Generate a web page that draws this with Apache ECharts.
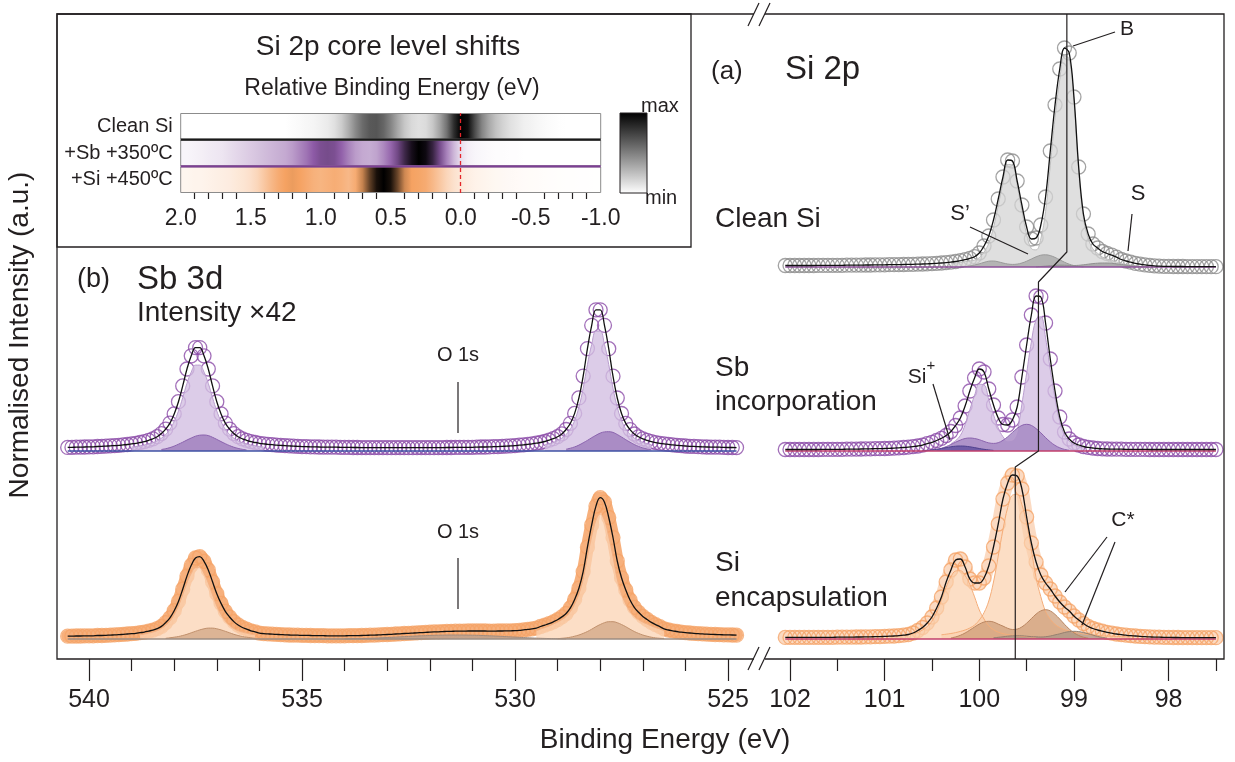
<!DOCTYPE html>
<html>
<head>
<meta charset="utf-8">
<title>Si 2p / Sb 3d core levels</title>
<script src="https://cdn.jsdelivr.net/npm/echarts@6.0.0/dist/echarts.min.js"></script>
<style>
  html, body { margin: 0; padding: 0; background: #fff; }
  #chart { width: 1235px; height: 762px; }
</style>
</head>
<body>
<div id="chart"></div>
<script>
// energy grids of the measured spectra (eV)
const sbStart = 540.5, sbStep = 0.1;
const siStart = 102.05, siStep = 0.05;
// stacking offsets (a.u.): clean Si, Sb incorporation, Si encapsulation
const rowBase = [392, 208, 20];
const yMax = 645;

// ---- Sb 3d (x42) ----
const sbPurple = [
  3.6,3.7,3.8,3.9,4.0,4.1,4.2,4.5,4.6,4.9,
  5.2,5.4,5.7,6.1,6.5,7.1,7.7,8.5,9.4,10.7,
  12.2,14.3,17.4,21.8,27.9,37.1,49.3,65.1,82.0,95.2,
  103.4,103.4,95.2,82.0,65.1,49.3,37.1,27.9,21.8,17.4,
  14.3,12.2,10.7,9.4,8.5,7.7,7.2,6.7,6.3,5.9,
  5.6,5.4,5.1,4.8,4.7,4.4,4.3,4.2,4.1,4.0,
  3.9,3.9,3.8,3.8,3.7,3.6,3.6,3.5,3.5,3.4,
  3.4,3.4,3.4,3.4,3.4,3.3,3.3,3.4,3.4,3.3,
  3.3,3.3,3.4,3.4,3.4,3.3,3.3,3.4,3.4,3.5,
  3.5,3.6,3.6,3.7,3.7,3.7,3.9,4.0,4.0,4.1,
  4.3,4.4,4.7,4.8,5.1,5.4,5.8,6.2,6.7,7.2,
  7.8,8.5,9.5,10.8,12.3,14.3,17.1,21.5,27.7,37.6,
  53.1,74.9,102.4,125.7,141.2,141.2,125.7,102.3,74.8,53.0,
  37.5,27.6,21.4,17.0,14.2,12.2,10.7,9.4,8.4,7.7,
  7.1,6.6,6.1,5.7,5.3,5.0,4.7,4.6,4.3,4.2,
  4.0,3.9,3.9,3.8,3.6,3.5,3.5,3.4];
const sbOrange = [
  2.8,2.9,3.0,3.0,3.1,3.2,3.2,3.5,3.5,3.7,
  3.9,4.1,4.3,4.7,5.0,5.3,5.7,6.3,6.9,7.9,
  8.9,10.4,12.6,16.4,21.2,28.3,37.6,49.8,62.9,73.7,
  81.0,82.4,77.7,69.1,57.2,45.3,35.6,27.7,22.0,17.4,
  14.0,11.5,9.8,8.2,7.1,5.8,5.4,5.1,4.8,4.6,
  4.4,4.2,4.0,3.8,3.8,3.6,3.6,3.5,3.4,3.4,
  3.3,3.2,3.2,3.2,3.2,3.2,3.3,3.3,3.4,3.5,
  3.7,3.8,3.9,4.1,4.3,4.5,4.7,5.0,5.2,5.5,
  5.6,5.9,6.2,6.4,6.6,6.9,7.1,7.2,7.4,7.6,
  7.7,7.8,7.9,7.9,8.0,8.0,8.0,8.0,8.0,7.9,
  7.9,8.0,8.0,8.1,8.2,8.3,8.6,9.1,9.6,10.2,
  10.8,12.5,13.9,15.4,17.2,19.3,22.1,25.5,31.1,39.6,
  50.8,67.4,91.8,114.1,132.9,141.3,136.8,121.5,101.5,78.0,
  61.2,49.0,39.0,31.7,26.7,22.6,19.5,16.6,14.3,12.4,
  10.2,9.0,8.2,7.5,6.8,6.3,6.0,5.6,5.3,5.1,
  4.8,4.6,4.5,4.3,4.2,4.1,4.0,3.8];
// fitted components, values on the 0.1 eV grid from the start energies below
const sbPurpleMainL = [4.0,4.5,5.2,6.0,7.1,8.3,10.1,12.8,16.5,21.7,29.5,39.9,53.3,67.7,78.9,85.9,85.9,78.9,67.7,53.3,39.9,29.5,21.7,16.5,12.8,10.1,8.3,7.1,6.0,5.2,4.5,4.0];
const sbPurpleSmallL = [1.5,2.3,3.4,4.9,6.8,8.8,11.0,13.0,14.8,15.8,16.0,15.4,13.7,11.6,9.4,7.3,5.4,3.8,2.6,1.7,1.0];
const sbPurpleMainR = [6.2,7.3,8.6,10.4,12.8,16.6,21.9,30.5,43.8,62.7,86.4,106.5,119.9,119.9,106.5,86.4,62.7,43.8,30.5,21.9,16.6,12.8,10.4,8.6,7.3,6.2];
const sbPurpleSmallR = [1.8,2.8,4.1,5.9,8.2,10.6,13.3,15.7,17.9,19.1,19.3,18.6,16.5,14.0,11.3,8.8,6.5,4.6,3.1,2.0,1.2];
const sbOrangeMainL = [4.3,4.9,5.9,6.9,8.4,10.6,13.7,18.0,24.5,33.1,44.3,56.2,65.5,71.3,71.3,65.5,56.2,44.3,33.1,24.5,18.0,13.7,10.6,8.4,6.9,5.9,4.9,4.3];
const sbOrangeSmallL = [0.7,1.2,1.8,2.5,3.5,4.7,6.2,7.7,9.1,10.2,10.9,10.9,10.2,9.1,7.7,6.2,4.7,3.5,2.5,1.8,1.2,0.7];
const sbOrangeMainR = [8.1,10.0,11.5,13.1,15.0,16.9,19.4,22.5,27.5,35.0,45.0,60.0,82.5,102.5,118.8,125,118.8,102.5,82.5,60.0,45.0,35.0,27.5,22.5,19.4,16.9,15.0,13.1,11.5,10.0,8.1];
const sbOrangeSmallR = [0.35,0.7,1.1,1.8,2.8,4.0,5.6,7.5,9.8,12.3,14.5,16.3,17.3,17.3,16.3,14.5,12.3,9.8,7.5,5.6,4.0,2.8,1.8,1.1,0.7,0.35];
const sbOrangeO1s = [0.1,0.25,0.45,0.7,1.05,1.45,1.9,2.35,2.8,3.2,3.55,3.8,3.95,4.0,3.95,3.8,3.55,3.2,2.8,2.35,1.9,1.45,1.05,0.7,0.45,0.25,0.1]; // 0.2 eV grid
const sbCompStart = { pMainL: 539.0, pSmallL: 538.3, pMainR: 529.3, pSmallR: 528.8,
                      oMainL: 538.8, oSmallL: 538.2, oMainR: 529.5, oSmallR: 529.0, oO1s: 534.0 };

// ---- Si 2p ----
const siClean = [
  1.5,1.5,1.5,1.5,1.5,1.5,1.5,1.6,1.6,1.6,
  1.7,1.7,1.7,1.8,1.8,1.9,1.9,2.0,2.0,2.1,
  2.1,2.2,2.3,2.3,2.4,2.5,2.6,2.7,2.9,3.0,
  3.2,3.4,3.7,4.0,4.4,4.9,5.5,6.3,7.3,8.6,
  10.3,14,21,31,47,68,90,107,106,86,
  62,40,28,29,42,70,116,162,198,219,
  214,170,100,53,33,23,19,15.5,13.5,11.8,
  9.8,7.5,6.0,4.8,3.6,2.8,2.1,1.6,1.2,0.9,
  0.7,0.6,0.5,0.5,0.5,0.4,0.4,0.4,0.4,0.3,
  0.3,0.3];
const siSb = [
  1.5,1.5,1.5,1.5,1.5,1.5,1.5,1.5,1.6,1.6,
  1.6,1.7,1.7,1.8,1.8,1.9,2.0,2.1,2.2,2.3,
  2.3,2.5,2.7,2.9,3.2,3.5,3.9,4.4,5.0,5.9,
  7.3,8.7,10.5,12.7,15.5,19.5,25.5,33,45,60,
  73,82,79,62,46,33,26.5,26,31,44,
  74,106,136,155,154,128,92,60,34,19,
  12,8,6,4.5,3.6,3.0,2.5,2.2,2.0,1.9,
  1.8,1.8,1.7,1.7,1.6,1.6,1.6,1.5,1.5,1.5,
  1.5,1.5,1.5,1.5,1.5,1.5,1.5,1.5,1.5,1.5,
  1.5,1.5];
const siSi = [
  1.6,1.6,1.6,1.6,1.6,1.6,1.6,1.7,1.7,1.7,
  1.7,1.8,1.8,1.9,1.9,2.0,2.0,2.1,2.2,2.3,
  2.4,2.6,2.8,3.0,3.3,3.8,4.5,6.0,8.5,11.5,
  16,22,31,42,57,69,79,80,72,60,
  56,56,61,73,92,115,140,156,164,163,
  150,122,96,77,64,56,50,43,37,32,
  28,23,19,15.5,12.5,10.5,9,7.8,6.7,5.8,
  5.0,4.4,3.8,3.3,3.0,2.6,2.3,2.1,1.9,1.8,
  1.7,1.6,1.5,1.5,1.4,1.4,1.4,1.3,1.3,1.3,
  1.3,1.3];
const siCleanBulk = [3.4,4.0,4.6,5.3,6.1,6.8,9.3,14.9,23.7,39.5,61.3,84.5,102.5,101.9,81.6,56.5,32.7,18.5,17.1,28.2,55.4,101.8,149.2,187.4,210.9,208.1,165.6,96.2,49.1,28.7,18.1,13.7,10.0,8.0,6.6,5.1,3.4,2.6,2.0,1.3,0.8];
const siCleanSp = [0.2,0.5,1.0,2.0,3.2,4.6,5.8,6.0,5.2,4.0,3.0,2.6,2.9,4.0,5.8,8.0,10.2,11.8,12.2,11.4,9.6,7.2,4.8,2.8,1.4,0.6,0.2];
const siCleanS = [0.2,0.5,0.9,1.3,1.7,1.9,1.8,1.6,1.5,1.7,2.2,2.8,3.4,3.8,4.0,4.0,3.7,3.2,2.6,1.9,1.3,0.8,0.5,0.3,0.1];
const siSbMain = [7.3,10.4,15.6,26.2,41.3,55.6,66.7,66.2,51.3,36.3,23.2,14.3,10.3,10.9,19.9,46.9,77.8,108.9,131.1,134.3,113.1,81.4,52.9,29.3,15.9,9.7,6.5,4.5,3.0];
const siSbShift = [1.6,2.7,4.4,6.5,8.8,10.9,12.5,13.0,12.5,11.3,9.6,8.1,7.6,8.3,10.7,14.2,18.6,22.6,25.6,26.7,25.6,22.4,18.2,13.4,9.1,5.6,3.2,1.6,0.8];
const siSbPlus = [0.3,0.6,1.1,1.7,2.5,3.4,4.2,4.8,5.0,4.8,4.2,3.4,2.5,1.7,1.1,0.6];
const siSi32 = [4.2,4.8,5.5,6.4,7.6,9.0,11.0,13.9,19.0,26.3,38.0,57,83,109.5,131.4,143.8,144.5,134.3,115.3,89,61.3,42.3,27.7,19.7,14.6,11.4,9.3,8.0,6.7,5.8,5.0,4.4,3.9,3.5,3.2,2.9,2.8,2.5,2.3,2.2,2.0];
const siSi12 = [2.3,2.6,3.0,3.6,4.3,5.2,6.6,9.0,12.4,17.9,26.9,39.3,51.8,62.1,68,68.3,63.5,54.5,42.1,29.0,20.0,13.1,9.3,6.9,5.4,4.4,3.8,3.2,2.8,2.3,2.1,1.9];
const siSiC1 = [1.1,2.1,3.7,6.0,8.9,12.0,14.9,17.0,17.7,17.0,14.9,12.9,10.7,9.5,9.9,12.1,15.8,20.4,24.9,28.1,29.3,28.1,24.6,19.9,14.7,10.0,6.2,3.5,1.8,0.9];
const siSiC2 = [1.1,1.7,2.2,2.8,3.2,3.3,3.2,2.8,2.4,2.2,2.0,2.3,3.0,4.1,5.2,6.5,7.4,7.7,7.4,6.5,5.2,3.9,2.6,1.6,0.9];
const siCompStart = { bulk: 100.30, sp: 100.20, s: 99.40, sbMain: 100.30, sbShift: 100.45, sbPlus: 100.60,
                      si32: 100.40, si12: 100.95, c1: 100.30, c2: 99.85 };
// bulk peak positions (eV) of the three preparations
const bulkPos = [99.075, 99.375, 99.62];

// ---- inset: Si 2p core level shifts (relative BE 2.0 ... -1.0, 0.05 eV) ----
const hmE0 = 2.0, hmE1 = -1.0;
const hmLabels = ['+Si +450ºC', '+Sb +350ºC', 'Clean Si'];
const hmClean = [
  0,0,0,0,0,0,0,0,0,0,
  0,0,0,0,0,0,0.01,0.02,0.03,0.04,
  0.06,0.08,0.12,0.2,0.32,0.46,0.58,0.65,0.66,0.6,
  0.48,0.34,0.22,0.15,0.12,0.14,0.22,0.36,0.55,0.82,
  1.0,0.95,0.7,0.48,0.34,0.24,0.17,0.12,0.09,0.06,
  0.045,0.03,0.02,0.01,0.005,0,0,0,0,0,
  0];
const hmSb = [
  0.03,0.03,0.04,0.05,0.06,0.07,0.08,0.1,0.12,0.14,
  0.16,0.18,0.2,0.22,0.24,0.26,0.3,0.36,0.42,0.5,
  0.56,0.58,0.56,0.48,0.38,0.3,0.26,0.25,0.28,0.36,
  0.46,0.6,0.78,0.92,1.0,0.95,0.8,0.58,0.38,0.22,
  0.1,0.05,0.03,0.02,0.015,0.01,0.01,0.005,0.005,0,
  0,0,0,0,0,0,0,0,0,0,
  0];
const hmSi = [
  0.05,0.05,0.06,0.06,0.07,0.08,0.09,0.1,0.12,0.14,
  0.17,0.22,0.3,0.38,0.45,0.5,0.52,0.5,0.46,0.42,
  0.4,0.42,0.44,0.42,0.38,0.45,0.6,0.8,0.95,1.0,
  0.95,0.78,0.58,0.5,0.48,0.45,0.38,0.3,0.22,0.16,
  0.12,0.09,0.07,0.06,0.05,0.04,0.035,0.03,0.025,0.02,
  0.018,0.015,0.012,0.01,0.008,0.006,0.005,0.004,0.003,0.002,
  0.002];
const hmRows = [hmSi, hmSb, hmClean];

// axis ticks
const sbMajor = [540, 535, 530, 525];
const sbMinor = [539, 538, 537, 536, 534, 533, 532, 531, 529, 528, 527, 526];
const siMajor = [102, 101, 100, 99, 98];
const siMinor = [101.5, 100.5, 99.5, 98.5, 97.5];

// ---- styles ----
const ink = '#231f20';
const font = "'Liberation Sans', Arial, sans-serif";
const hmMid = ['#f5a262', '#8d5aa6', '#7f7f7f'];
const hmSep = ['#9a9a9a', '#7d3f93', '#1a1a1a'];

function onGrid(start, step, vals, base) {
  return vals.map((v, i) => [+(start - i * step).toFixed(3), v + base]);
}
function hexRgb(h) { return [1, 3, 5].map(k => parseInt(h.slice(k, k + 2), 16)); }
function rampColor(mid, v) {
  const m = hexRgb(mid);
  let c;
  if (v <= 0.5) { const t = v / 0.5; c = m.map(x => 255 + (x - 255) * t); }
  else { const t = (v - 0.5) / 0.5; c = m.map(x => x * (1 - t)); }
  return 'rgb(' + c.map(Math.round).join(',') + ')';
}

const series = [];
function addCircles(xi, yi, data, color) {
  series.push({ type: 'scatter', xAxisIndex: xi, yAxisIndex: yi, data, symbol: 'circle', symbolSize: 14,
    itemStyle: { color: 'rgba(255,255,255,0)', borderColor: color, borderWidth: 1.3 }, z: 2, silent: true });
}
function addBand(xi, yi, data, color, width, op) {
  series.push({ type: 'line', xAxisIndex: xi, yAxisIndex: yi, data, smooth: 0.4, showSymbol: false,
    lineStyle: { color, width, cap: 'round', join: 'round', opacity: op || 1 }, z: 1, silent: true });
}
function addFill(xi, yi, data, base, fill, edge, op) {
  series.push({ type: 'line', xAxisIndex: xi, yAxisIndex: yi, data, smooth: 0.4, showSymbol: false,
    lineStyle: { color: edge, width: 1 }, areaStyle: { color: fill, opacity: op, origin: base }, z: 3, silent: true });
}
function addLine(xi, yi, data, color, width, z, smooth) {
  series.push({ type: 'line', xAxisIndex: xi, yAxisIndex: yi, data, smooth: smooth || false, showSymbol: false,
    lineStyle: { color, width }, z, silent: true });
}

// Sb 3d, Sb incorporation
{
  const b = rowBase[1], d = onGrid(sbStart, sbStep, sbPurple, b);
  addCircles(0, 0, d, '#8b4ba7');
  addFill(0, 0, onGrid(sbCompStart.pMainL, 0.1, sbPurpleMainL, b), b, '#d3bfe2', '#b99dce', 0.8);
  addFill(0, 0, onGrid(sbCompStart.pMainR, 0.1, sbPurpleMainR, b), b, '#d3bfe2', '#b99dce', 0.8);
  addFill(0, 0, onGrid(sbCompStart.pSmallL, 0.1, sbPurpleSmallL, b), b, '#9d7cbd', '#8a62ad', 0.8);
  addFill(0, 0, onGrid(sbCompStart.pSmallR, 0.1, sbPurpleSmallR, b), b, '#9d7cbd', '#8a62ad', 0.8);
  addLine(0, 0, [[sbStart, b], [d[d.length - 1][0], b]], '#3f52a4', 1.5, 4);
  addLine(0, 0, d, '#111', 1.3, 5, 0.4);
}
// Sb 3d, Si encapsulation
{
  const b = rowBase[2], d = onGrid(sbStart, sbStep, sbOrange, b);
  addBand(0, 0, d, '#f7b07c', 13);
  addCircles(0, 0, d, '#f5a468');
  addFill(0, 0, onGrid(sbCompStart.oO1s, 0.2, sbOrangeO1s, b), b, '#b0a096', '#a08c80', 0.7);
  addFill(0, 0, onGrid(sbCompStart.oMainL, 0.1, sbOrangeMainL, b), b, '#fbd3b3', '#f3b184', 0.75);
  addFill(0, 0, onGrid(sbCompStart.oMainR, 0.1, sbOrangeMainR, b), b, '#fbd3b3', '#f3b184', 0.75);
  addFill(0, 0, onGrid(sbCompStart.oSmallL, 0.1, sbOrangeSmallL, b), b, '#d2a584', '#c0906c', 0.75);
  addFill(0, 0, onGrid(sbCompStart.oSmallR, 0.1, sbOrangeSmallR, b), b, '#d2a584', '#c0906c', 0.75);
  addLine(0, 0, [[sbStart, b], [d[d.length - 1][0], b]], '#9c8c82', 1.5, 4);
  addLine(0, 0, d, '#111', 1.3, 5, 0.4);
}
// Si 2p, clean
{
  const b = rowBase[0], d = onGrid(siStart, siStep, siClean, b);
  addCircles(2, 1, d, '#8c8c8c');
  addFill(2, 1, onGrid(siCompStart.bulk, 0.05, siCleanBulk, b), b, '#d4d4d4', '#bdbdbd', 0.75);
  addFill(2, 1, onGrid(siCompStart.sp, 0.05, siCleanSp, b), b, '#a9a9a9', '#999', 0.8);
  addFill(2, 1, onGrid(siCompStart.s, 0.05, siCleanS, b), b, '#9f9f9f', '#8f8f8f', 0.8);
  addLine(2, 1, [[siStart, b], [d[d.length - 1][0], b]], '#8d4f98', 1.5, 4);
  addLine(2, 1, d, '#111', 1.3, 5, 0.4);
}
// Si 2p, Sb incorporation
{
  const b = rowBase[1], d = onGrid(siStart, siStep, siSb, b);
  addCircles(2, 1, d, '#8b4ba7');
  addFill(2, 1, onGrid(siCompStart.sbMain, 0.05, siSbMain, b), b, '#d3bfe2', '#b99dce', 0.8);
  addFill(2, 1, onGrid(siCompStart.sbShift, 0.05, siSbShift, b), b, '#a384c2', '#8a62ad', 0.8);
  addFill(2, 1, onGrid(siCompStart.sbPlus, 0.05, siSbPlus, b), b, '#5b4b9c', '#4d3f8c', 0.75);
  addLine(2, 1, [[siStart, b], [d[d.length - 1][0], b]], '#c2416c', 1.5, 4);
  addLine(2, 1, d, '#111', 1.3, 5, 0.4);
}
// Si 2p, Si encapsulation
{
  const b = rowBase[2], d = onGrid(siStart, siStep, siSi, b);
  addBand(2, 1, d, '#f8c29a', 13, 0.6);
  addCircles(2, 1, d, '#f5a468');
  addFill(2, 1, onGrid(siCompStart.si12, 0.05, siSi12, b), b, '#fbd0ad', '#f4ac78', 0.7);
  addFill(2, 1, onGrid(siCompStart.si32, 0.05, siSi32, b), b, '#fbd0ad', '#f4ac78', 0.7);
  addFill(2, 1, onGrid(siCompStart.c1, 0.05, siSiC1, b), b, '#cc9a74', '#b98560', 0.7);
  addFill(2, 1, onGrid(siCompStart.c2, 0.05, siSiC2, b), b, '#a69486', '#948070', 0.7);
  addLine(2, 1, [[siStart, b], [d[d.length - 1][0], b]], '#c2416c', 1.5, 4);
  addLine(2, 1, d, '#111', 1.3, 5, 0.4);
}
// bulk peak guide line
addLine(2, 1, [[bulkPos[0], yMax], [bulkPos[0], rowBase[0] + 15], [bulkPos[1], rowBase[0] - 15],
  [bulkPos[1], rowBase[1]], [bulkPos[2], rowBase[1] - 16], [bulkPos[2], 0]], ink, 1.2, 6);

// inset heat strips
series.push({
  type: 'custom', xAxisIndex: 4, yAxisIndex: 2, silent: true, z: 2,
  data: hmRows.map((r, i) => [hmE0, i]),
  encode: { x: 0, y: 1 },
  renderItem(params, api) {
    const r = api.value(1);
    const p0 = api.coord([hmE0, r]), p1 = api.coord([hmE1, r]);
    const h = api.size([0, 1])[1];
    const vals = hmRows[r];
    const stops = vals.map((v, i) => ({ offset: i / (vals.length - 1), color: rampColor(hmMid[r], v) }));
    const top = p0[1] - h / 2, bot = p0[1] + h / 2;
    return { type: 'group', children: [
      { type: 'rect', shape: { x: p0[0], y: top + 0.5, width: p1[0] - p0[0], height: h - 1 },
        style: { fill: new echarts.graphic.LinearGradient(0, 0, 1, 0, stops), stroke: '#8c8c8c', lineWidth: 1 } },
      { type: 'line', shape: { x1: p0[0], y1: bot, x2: p1[0], y2: bot },
        style: { stroke: hmSep[r], lineWidth: r === 0 ? 0 : 2.2 } }
    ] };
  },
  markLine: { symbol: 'none', silent: true, label: { show: false },
    lineStyle: { color: '#e3262a', type: [4, 3], width: 1.3 }, data: [{ xAxis: 0 }] }
});

const txt = (text, x, y, size, align, extra) => Object.assign({ type: 'text', x, y, z: 20, silent: true,
  style: { text, fill: ink, fontSize: size, fontFamily: font, align: align || 'left', verticalAlign: 'middle' } }, extra || {});
const seg = (x1, y1, x2, y2, w) => ({ type: 'line', z: 20, silent: true,
  shape: { x1, y1, x2, y2 }, style: { stroke: ink, lineWidth: w || 1.2 } });

const graphic = [
  { type: 'rect', z: 15, silent: true, shape: { x: 57, y: 14, width: 1167, height: 645 }, style: { fill: 'none', stroke: ink, lineWidth: 1.3 } },
  { type: 'rect', z: 15, silent: true, shape: { x: 57, y: 14, width: 634, height: 233 }, style: { fill: 'none', stroke: ink, lineWidth: 1.3 } },
  { type: 'rect', z: 16, silent: true, shape: { x: 754, y: 10, width: 11, height: 8 }, style: { fill: '#fff' } },
  { type: 'rect', z: 16, silent: true, shape: { x: 754, y: 655, width: 11, height: 8 }, style: { fill: '#fff' } },
  seg(748, 26, 759, 3), seg(759, 26, 770, 3), seg(748, 670, 759, 647), seg(759, 670, 770, 647),
  { type: 'rect', z: 15, silent: true, shape: { x: 620, y: 113, width: 27, height: 80 },
    style: { fill: new echarts.graphic.LinearGradient(0, 0, 0, 1, [{ offset: 0, color: '#000' }, { offset: 1, color: '#fff' }]), stroke: ink, lineWidth: 1 } },
  txt('max', 641, 106, 20), txt('min', 645, 198, 20),
  txt('Si 2p core level shifts', 388, 47, 28, 'center'),
  txt('Relative Binding Energy (eV)', 392, 89, 23, 'center'),
  txt('(a)', 711, 72, 26), txt('Si 2p', 785, 70, 33),
  txt('Clean Si', 715, 219, 28),
  txt('Sb', 715, 368, 28), txt('incorporation', 715, 402, 28),
  txt('Si', 715, 563, 28), txt('encapsulation', 715, 598, 28),
  txt('(b)', 77, 280, 27), txt('Sb 3d', 137, 280, 33), txt('Intensity ×42', 137, 313, 28),
  txt('O 1s', 458, 355, 20, 'center'), seg(458, 382, 458, 433),
  txt('O 1s', 458, 532, 20, 'center'), seg(458, 558, 458, 609),
  txt('B', 1127, 29, 21, 'center'), seg(1115, 32, 1073, 46),
  txt('S’', 960, 214, 22, 'center'), seg(970, 227, 1028, 254),
  txt('S', 1138, 194, 22, 'center'), seg(1132, 214, 1128, 251),
  txt('Si', 917, 377, 21, 'center'), txt('+', 931, 366, 15, 'center'), seg(933, 384, 950, 440),
  txt('C*', 1123, 520, 21, 'center'), seg(1107, 537, 1065, 592), seg(1115, 542, 1082, 625),
  txt('Binding Energy (eV)', 665, 740, 28, 'center'),
  txt('Normalised Intensity (a.u.)', 20, 335, 28, 'center', { rotation: Math.PI / 2 })
];

const tickStyle = { color: ink, width: 1.2 };
const option = {
  animation: false,
  textStyle: { fontFamily: font, color: ink },
  grid: [
    { left: 57, top: 14, width: 693, height: 645 },
    { left: 766, top: 14, width: 458, height: 645 },
    { left: 180.7, top: 113, width: 420, height: 80 }
  ],
  xAxis: [
    { gridIndex: 0, type: 'value', position: 'bottom', inverse: true, min: 524.484, max: 540.751, axisLine: { show: false }, splitLine: { show: false },
      axisTick: { customValues: sbMajor, length: 22, lineStyle: tickStyle },
      axisLabel: { customValues: sbMajor, fontSize: 25, color: ink, margin: 29 } },
    { gridIndex: 0, type: 'value', position: 'bottom', inverse: true, min: 524.484, max: 540.751, axisLine: { show: false }, splitLine: { show: false },
      axisTick: { customValues: sbMinor, length: 12, lineStyle: tickStyle }, axisLabel: { show: false } },
    { gridIndex: 1, type: 'value', position: 'bottom', inverse: true, min: 97.4147, max: 102.2536, axisLine: { show: false }, splitLine: { show: false },
      axisTick: { customValues: siMajor, length: 22, lineStyle: tickStyle },
      axisLabel: { customValues: siMajor, fontSize: 25, color: ink, margin: 29 } },
    { gridIndex: 1, type: 'value', position: 'bottom', inverse: true, min: 97.4147, max: 102.2536, axisLine: { show: false }, splitLine: { show: false },
      axisTick: { customValues: siMinor, length: 12, lineStyle: tickStyle }, axisLabel: { show: false } },
    { gridIndex: 2, type: 'value', position: 'bottom', inverse: true, min: -1, max: 2, interval: 0.5,
      axisLine: { lineStyle: { color: '#555', width: 1.3 } }, splitLine: { show: false },
      axisTick: { length: 6, lineStyle: tickStyle },
      minorTick: { show: true, splitNumber: 5, length: 6, lineStyle: tickStyle }, minorSplitLine: { show: false },
      axisLabel: { fontSize: 23, color: ink, margin: 14, formatter: v => v.toFixed(1) } },
    { gridIndex: 2, type: 'value', position: 'top', inverse: true, min: -1, max: 2, interval: 0.1,
      axisLine: { lineStyle: { color: '#555', width: 1.3 } }, splitLine: { show: false },
      axisTick: { length: 6, lineStyle: tickStyle }, axisLabel: { show: false } }
  ],
  yAxis: [
    { gridIndex: 0, type: 'value', min: 0, max: yMax, show: false },
    { gridIndex: 1, type: 'value', min: 0, max: yMax, show: false },
    { gridIndex: 2, type: 'category', data: hmLabels, axisLine: { show: false }, axisTick: { show: false },
      axisLabel: { fontSize: 20, color: ink, margin: 8, padding: [8, 0, 0, 0] } }
  ],
  graphic,
  series
};

const chart = echarts.init(document.getElementById('chart'), null, { renderer: 'canvas' });
chart.setOption(option);
</script>
</body>
</html>
